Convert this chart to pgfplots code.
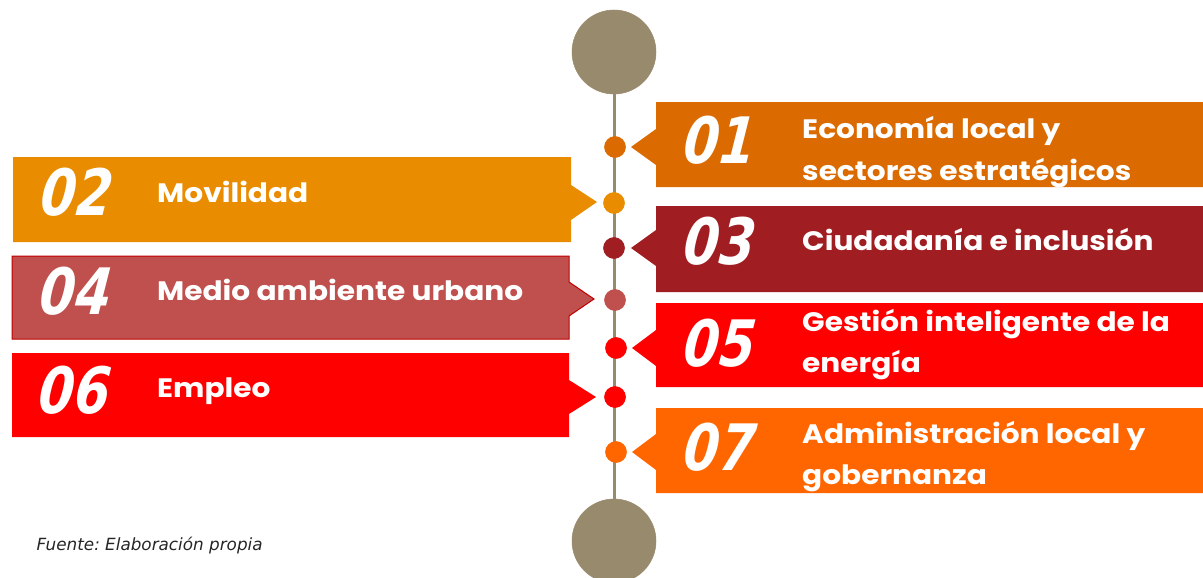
\documentclass[border=0pt]{standalone}
\usepackage{pgfplots}
\pgfplotsset{compat=1.18}
\usepackage{fontspec}
\setmainfont{DejaVu Sans}
\newfontfamily\numfont{DejaVu Sans}
\newfontfamily\labfont{Poppins}
\newfontfamily\srcfont{DejaVu Sans}
\definecolor{cA}{HTML}{DB6B00}
\definecolor{cB}{HTML}{EA8C00}
\definecolor{cC}{HTML}{A01E22}
\definecolor{cD}{HTML}{C0504D}
\definecolor{cDb}{HTML}{C00000}
\definecolor{cE}{HTML}{FF0000}
\definecolor{cF}{HTML}{FF0000}
\definecolor{cG}{HTML}{FF6600}
\definecolor{gr}{HTML}{988A6C}
\begin{document}
\begin{tikzpicture}
\begin{axis}[
  width=902.25pt, height=433.5pt, scale only axis,
  xmin=0, xmax=1203, ymin=0, ymax=578, y dir=reverse,
  hide axis, clip=true, clip marker paths=true,
  every node/.style={inner sep=0pt, outer sep=0pt},
]
\coordinate (SW) at (rel axis cs:0,0);
\coordinate (NE) at (rel axis cs:1,1);
% timeline
\addplot[gr, line width=2.25pt] coordinates {(614,93) (614,500)};
\addplot[gr, only marks, mark=*, mark size=31.5pt, mark options={draw=none, fill=gr}] coordinates {(614,52) (614,541)};
% dots
\addplot[cA, only marks, mark=*, mark size=7.9pt, mark options={draw=none, fill=cA}] coordinates {(615,147)};
\addplot[cB, only marks, mark=*, mark size=7.9pt, mark options={draw=none, fill=cB}] coordinates {(614,203)};
\addplot[cC, only marks, mark=*, mark size=7.9pt, mark options={draw=none, fill=cC}] coordinates {(614,248)};
\addplot[cD, only marks, mark=*, mark size=7.9pt, mark options={draw=none, fill=cD}] coordinates {(615,300)};
\addplot[cE, only marks, mark=*, mark size=7.9pt, mark options={draw=none, fill=cE}] coordinates {(616,348)};
\addplot[cF, only marks, mark=*, mark size=7.9pt, mark options={draw=none, fill=cF}] coordinates {(615,397)};
\addplot[cG, only marks, mark=*, mark size=7.9pt, mark options={draw=none, fill=cG}] coordinates {(616,452)};
% right boxes
\addplot[fill=cA, draw=none] coordinates {(656,102) (1203,102) (1203,187) (656,187) (656,165) (631,147) (656,129)} -- cycle;
\addplot[fill=cC, draw=none] coordinates {(656,206) (1203,206) (1203,292) (656,292) (656,266) (631,248) (656,230)} -- cycle;
\addplot[fill=cE, draw=none] coordinates {(656,303) (1203,303) (1203,387) (656,387) (656,366) (632,348) (656,330)} -- cycle;
\addplot[fill=cG, draw=none] coordinates {(656,408) (1203,408) (1203,493) (656,493) (656,470) (632,452) (656,434)} -- cycle;
% left boxes
\addplot[fill=cB, draw=none] coordinates {(13,157) (571,157) (571,185) (597,202) (571,220) (571,242) (13,242)} -- cycle;
\addplot[fill=cD, draw=cDb, line width=0.75pt] coordinates {(12,256) (569,256) (569,282) (594,299) (569,316) (569,339) (12,339)} -- cycle;
\addplot[fill=cF, draw=none] coordinates {(12,353) (569,353) (569,380) (596,397) (569,414) (569,437) (12,437)} -- cycle;
% numbers
\tikzset{num/.style={anchor=west, text=white, font=\numfont\fontsize{48}{48}\selectfont\bfseries\itshape, xscale=0.8, xslant=0.12}}
\node[num] at (axis cs:681,140) {01};
\node[num] at (axis cs:38,192) {02};
\node[num] at (axis cs:681,241) {03};
\node[num] at (axis cs:37,291) {04};
\node[num] at (axis cs:681,343) {05};
\node[num] at (axis cs:36,390) {06};
\node[num] at (axis cs:681,447) {07};
% labels
\tikzset{lab/.style={anchor=base west, text=white, font=\labfont\fontsize{20}{20}\selectfont\bfseries, xscale=1.11}}
\node[lab] at (axis cs:797,138) {Economía local y};
\node[lab] at (axis cs:797,180) {sectores estratégicos};
\node[lab] at (axis cs:152,202) {Movilidad};
\node[lab] at (axis cs:797,250) {Ciudadanía e inclusión};
\node[lab] at (axis cs:152,300) {Medio ambiente urbano};
\node[lab] at (axis cs:797,331) {Gestión inteligente de la};
\node[lab] at (axis cs:797,372) {energía};
\node[lab] at (axis cs:152,397) {Empleo};
\node[lab] at (axis cs:797,443) {Administración local y};
\node[lab] at (axis cs:797,484) {gobernanza};
\node[anchor=base west, text=black!85, font=\srcfont\fontsize{12.6}{12.6}\selectfont\itshape] at (axis cs:32,550) {Fuente:~Elaboración propia};
\end{axis}
\pgfresetboundingbox
\path (SW) rectangle (NE);
\end{tikzpicture}
\end{document}
